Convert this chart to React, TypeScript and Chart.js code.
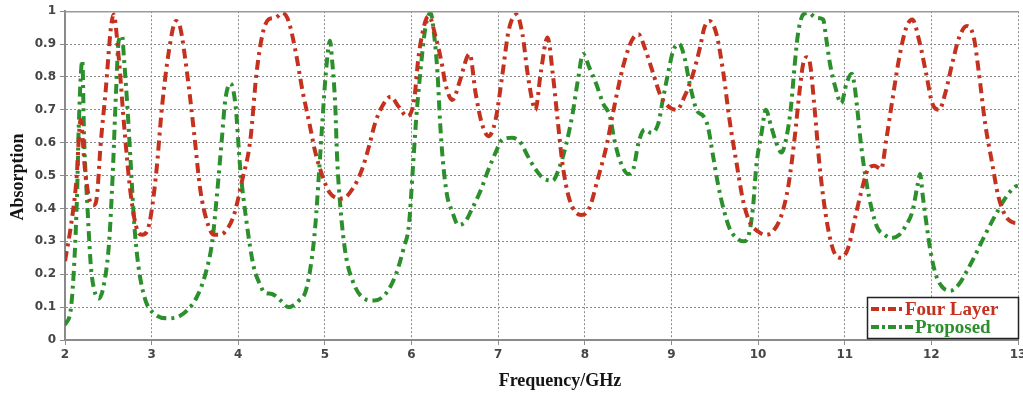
import React, { useEffect, useRef } from "react";
import { Chart, registerables } from "chart.js";

Chart.register(...registerables);

// ---- Data ----
const fourLayerFreq = [
  2.00, 2.07, 2.13, 2.18, 2.23, 2.28, 2.33, 2.37, 2.41, 2.47,
  2.53, 2.56, 2.62, 2.68, 2.76, 2.84, 2.89, 2.97, 3.05, 3.12,
  3.20, 3.28, 3.33, 3.41, 3.49, 3.56, 3.64, 3.72, 3.77, 3.85,
  3.95, 4.04, 4.14, 4.21, 4.28, 4.35, 4.43, 4.51, 4.58, 4.66,
  4.74, 4.82, 4.89, 4.97, 5.05, 5.20, 5.32, 5.43, 5.51, 5.58,
  5.66, 5.76, 5.85, 5.95, 6.03, 6.08, 6.16, 6.20, 6.28, 6.35,
  6.39, 6.47, 6.56, 6.64, 6.67, 6.74, 6.81, 6.89, 6.97, 7.05,
  7.12, 7.21, 7.28, 7.34, 7.40, 7.43, 7.49, 7.57, 7.63, 7.69,
  7.74, 7.82, 7.96, 8.05, 8.15, 8.25, 8.34, 8.44, 8.54, 8.62,
  8.69, 8.79, 8.88, 9.06, 9.15, 9.25, 9.33, 9.38, 9.44, 9.52,
  9.60, 9.67, 9.75, 9.83, 9.90, 10.00, 10.08, 10.17, 10.27, 10.35,
  10.42, 10.48, 10.52, 10.56, 10.60, 10.65, 10.71, 10.77, 10.83, 10.89,
  10.96, 11.04, 11.11, 11.19, 11.27, 11.34, 11.42, 11.48, 11.55, 11.63,
  11.71, 11.78, 11.86, 11.94, 12.01, 12.09, 12.16, 12.24, 12.32, 12.41,
  12.49, 12.55, 12.62, 12.70, 12.77, 12.85, 12.92, 13.00,
];
const fourLayerAbs = [
  0.24, 0.35, 0.48, 0.67, 0.52, 0.43, 0.41, 0.44, 0.59, 0.76,
  0.95, 0.99, 0.86, 0.66, 0.44, 0.33, 0.32, 0.35, 0.50, 0.71,
  0.88, 0.97, 0.95, 0.81, 0.63, 0.46, 0.36, 0.32, 0.32, 0.33,
  0.38, 0.48, 0.61, 0.81, 0.93, 0.975, 0.98, 0.995, 0.97, 0.88,
  0.76, 0.66, 0.57, 0.50, 0.45, 0.43, 0.46, 0.52, 0.59, 0.66,
  0.71, 0.74, 0.71, 0.68, 0.73, 0.86, 0.97, 0.985, 0.92, 0.84,
  0.78, 0.73, 0.79, 0.86, 0.87, 0.75, 0.66, 0.62, 0.67, 0.81,
  0.94, 0.99, 0.93, 0.81, 0.72, 0.70, 0.81, 0.92, 0.81, 0.66,
  0.54, 0.43, 0.38, 0.40, 0.49, 0.59, 0.71, 0.83, 0.91, 0.93,
  0.89, 0.81, 0.74, 0.70, 0.74, 0.81, 0.89, 0.95, 0.97, 0.93,
  0.81, 0.67, 0.54, 0.42, 0.36, 0.33, 0.32, 0.33, 0.38, 0.47,
  0.61, 0.76, 0.84, 0.86, 0.84, 0.71, 0.53, 0.40, 0.31, 0.26,
  0.25, 0.28, 0.36, 0.45, 0.52, 0.53, 0.52, 0.61, 0.73, 0.86,
  0.95, 0.975, 0.91, 0.81, 0.72, 0.70, 0.75, 0.84, 0.92, 0.955,
  0.92, 0.81, 0.66, 0.54, 0.44, 0.38, 0.36, 0.355,
];

const proposedFreq = [
  2.00, 2.07, 2.11, 2.14, 2.16, 2.20, 2.22, 2.26, 2.30, 2.34,
  2.39, 2.45, 2.51, 2.55, 2.59, 2.62, 2.66, 2.68, 2.72, 2.76,
  2.80, 2.85, 2.93, 3.03, 3.18, 3.30, 3.41, 3.52, 3.62, 3.70,
  3.75, 3.81, 3.85, 3.91, 3.97, 4.02, 4.10, 4.18, 4.25, 4.30,
  4.39, 4.49, 4.58, 4.70, 4.78, 4.85, 4.89, 4.93, 4.97, 5.01,
  5.06, 5.08, 5.12, 5.14, 5.18, 5.24, 5.32, 5.43, 5.57, 5.70,
  5.82, 5.91, 5.97, 6.01, 6.05, 6.10, 6.16, 6.22, 6.26, 6.30,
  6.33, 6.36, 6.41, 6.47, 6.54, 6.62, 6.70, 6.79, 6.89, 6.97,
  7.05, 7.16, 7.26, 7.34, 7.43, 7.53, 7.63, 7.70, 7.78, 7.86,
  7.92, 7.98, 8.05, 8.13, 8.21, 8.29, 8.34, 8.40, 8.50, 8.56,
  8.62, 8.69, 8.77, 8.85, 8.90, 8.96, 9.02, 9.09, 9.15, 9.21,
  9.29, 9.37, 9.42, 9.48, 9.54, 9.60, 9.67, 9.75, 9.83, 9.88,
  9.94, 9.98, 10.04, 10.09, 10.15, 10.21, 10.27, 10.33, 10.38, 10.42,
  10.46, 10.52, 10.58, 10.67, 10.75, 10.79, 10.83, 10.89, 10.96, 11.02,
  11.08, 11.11, 11.15, 11.19, 11.25, 11.31, 11.38, 11.46, 11.53, 11.63,
  11.71, 11.78, 11.84, 11.87, 11.90, 11.94, 11.99, 12.05, 12.13, 12.22,
  12.32, 12.41, 12.51, 12.62, 12.74, 12.85, 12.96, 13.00,
];
const proposedAbs = [
  0.045, 0.10, 0.25, 0.45, 0.66, 0.85, 0.62, 0.40, 0.22, 0.15,
  0.126, 0.17, 0.30, 0.50, 0.76, 0.91, 0.925, 0.86, 0.71, 0.53,
  0.35, 0.22, 0.12, 0.08, 0.066, 0.07, 0.09, 0.13, 0.20, 0.30,
  0.43, 0.61, 0.73, 0.78, 0.71, 0.53, 0.35, 0.22, 0.17, 0.145,
  0.14, 0.12, 0.10, 0.12, 0.15, 0.25, 0.35, 0.50, 0.66, 0.81,
  0.91, 0.86, 0.71, 0.56, 0.40, 0.26, 0.18, 0.13, 0.12, 0.14,
  0.20, 0.28, 0.35, 0.50, 0.66, 0.81, 0.95, 0.995, 0.93, 0.81,
  0.66, 0.55, 0.44, 0.39, 0.35, 0.36, 0.40, 0.45, 0.52, 0.57,
  0.61, 0.615, 0.60, 0.56, 0.52, 0.49, 0.485, 0.52, 0.59, 0.69,
  0.79, 0.87, 0.83, 0.78, 0.72, 0.68, 0.61, 0.55, 0.505, 0.52,
  0.60, 0.64, 0.63, 0.66, 0.73, 0.81, 0.88, 0.90, 0.86, 0.78,
  0.70, 0.68, 0.65, 0.56, 0.47, 0.40, 0.34, 0.31, 0.30, 0.31,
  0.40, 0.53, 0.63, 0.70, 0.65, 0.60, 0.57, 0.62, 0.71, 0.83,
  0.93, 0.99, 0.995, 0.98, 0.975, 0.91, 0.84, 0.77, 0.72, 0.78,
  0.81, 0.78, 0.69, 0.59, 0.48, 0.40, 0.34, 0.32, 0.31, 0.32,
  0.35, 0.39, 0.47, 0.505, 0.44, 0.36, 0.27, 0.20, 0.16, 0.15,
  0.17, 0.21, 0.26, 0.32, 0.38, 0.43, 0.465, 0.47,
];

const seriesLabels = ["Four Layer", "Proposed"];
const xTitle = "Frequency/GHz";
const yTitle = "Absorption";

// ---- Styles ----
const W = 1023;
const H = 396;
const RED = "#c4321f";
const GREEN = "#2b8f2b";
const LINE_DASH = [10, 5, 3, 5];
const GRID_COLOR = "#8c8c8c";
const TICK_COLOR = "#454545";
const TICK_FONT = { family: "'DejaVu Sans', Verdana, sans-serif", size: 12, weight: "bold" as const };
const SERIF = "'Liberation Serif', 'Times New Roman', serif";

const toPoints = (xs: number[], ys: number[]) => xs.map((x, i) => ({ x, y: ys[i] }));

const decorPlugin = {
  id: "decor",
  afterDraw(chart: any) {
    const { ctx, chartArea } = chart;
    ctx.save();
    // top frame line
    ctx.strokeStyle = "#9a9a9a";
    ctx.lineWidth = 1.5;
    ctx.setLineDash([]);
    ctx.beginPath();
    ctx.moveTo(chartArea.left, chartArea.top + 0.5);
    ctx.lineTo(chartArea.right, chartArea.top + 0.5);
    ctx.stroke();

    // axis titles
    ctx.fillStyle = "#141414";
    ctx.font = `bold 18px ${SERIF}`;
    ctx.textAlign = "center";
    ctx.textBaseline = "middle";
    ctx.fillText(xTitle, 560, 381);
    ctx.save();
    ctx.translate(18, 177);
    ctx.rotate(-Math.PI / 2);
    ctx.fillText(yTitle, 0, 0);
    ctx.restore();

    // legend box
    const bx = 867.5, by = 297.5, bw = 151, bh = 41;
    ctx.fillStyle = "#ffffff";
    ctx.fillRect(bx, by, bw, bh);
    ctx.strokeStyle = "#222222";
    ctx.lineWidth = 1.5;
    ctx.strokeRect(bx, by, bw, bh);

    const rows = [
      { label: seriesLabels[0], color: RED, y: 309, tx: 905 },
      { label: seriesLabels[1], color: GREEN, y: 327, tx: 915 },
    ];
    rows.forEach((r) => {
      ctx.strokeStyle = r.color;
      ctx.lineWidth = 4;
      ctx.setLineDash([8, 3, 3, 3]);
      ctx.beginPath();
      ctx.moveTo(871, r.y);
      ctx.lineTo(r.tx - 2, r.y);
      ctx.stroke();
      ctx.setLineDash([]);
      ctx.fillStyle = r.color;
      ctx.font = `bold 19px ${SERIF}`;
      ctx.textAlign = "left";
      ctx.textBaseline = "middle";
      ctx.fillText(r.label, r.tx, r.y + 1);
    });
    ctx.restore();
  },
};

export default function App() {
  const ref = useRef<HTMLCanvasElement>(null);
  useEffect(() => {
    document.body.style.margin = "0";
    const canvas = ref.current!;
    const chart = new Chart(canvas, {
      type: "line",
      data: {
        datasets: [
          {
            label: seriesLabels[0],
            data: toPoints(fourLayerFreq, fourLayerAbs),
            borderColor: RED,
            backgroundColor: RED,
            borderWidth: 4,
            borderDash: LINE_DASH,
            pointRadius: 0,
            cubicInterpolationMode: "monotone",
            fill: false,
          },
          {
            label: seriesLabels[1],
            data: toPoints(proposedFreq, proposedAbs),
            borderColor: GREEN,
            backgroundColor: GREEN,
            borderWidth: 4,
            borderDash: LINE_DASH,
            pointRadius: 0,
            cubicInterpolationMode: "monotone",
            fill: false,
          },
        ],
      },
      options: {
        animation: false,
        responsive: false,
        devicePixelRatio: 1,
        layout: { padding: { top: 8, right: 5, left: 0, bottom: 0 } },
        plugins: { legend: { display: false }, tooltip: { enabled: false } },
        scales: {
          x: {
            type: "linear",
            min: 2,
            max: 13,
            ticks: { stepSize: 1, color: TICK_COLOR, font: TICK_FONT, padding: 3 },
            grid: { color: GRID_COLOR, lineWidth: 1, tickLength: 5 },
            border: { display: true, color: "#8a8a8a", width: 2, dash: [2, 2] },
            afterFit: (s: any) => {
              s.height = 56;
              s.paddingLeft = 0;
              s.paddingRight = 0;
            },
          },
          y: {
            type: "linear",
            min: 0,
            max: 1,
            ticks: {
              stepSize: 0.1,
              color: TICK_COLOR,
              font: TICK_FONT,
              padding: 4,
              callback: (v: any) => String(Number(Number(v).toFixed(1))),
            },
            grid: { color: GRID_COLOR, lineWidth: 1, tickLength: 5 },
            border: { display: true, color: "#8a8a8a", width: 2, dash: [2, 2] },
            afterFit: (s: any) => {
              s.width = 65;
            },
          },
        },
      },
      plugins: [decorPlugin],
    });
    return () => chart.destroy();
  }, []);
  return (
    <div style={{ width: W, height: H, background: "#ffffff" }}>
      <canvas ref={ref} width={W} height={H} style={{ display: "block" }} />
    </div>
  );
}
